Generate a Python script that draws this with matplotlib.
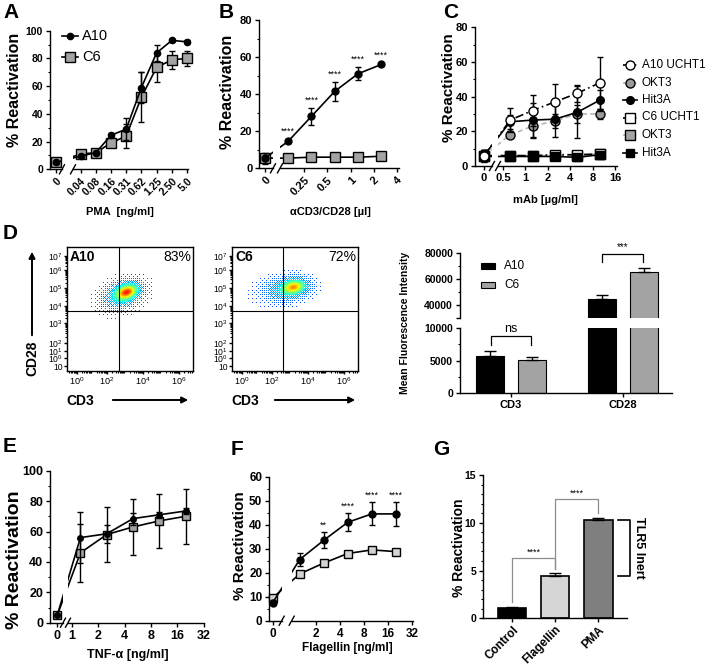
import numpy as np
import matplotlib
matplotlib.use('Agg')
import matplotlib.pyplot as plt
from matplotlib.lines import Line2D
from matplotlib.patches import FancyArrowPatch, Rectangle

plt.rcParams['font.family'] = ['Liberation Sans', 'DejaVu Sans']
plt.rcParams['mathtext.fontset'] = 'custom'
plt.rcParams['mathtext.rm'] = 'Liberation Sans'
plt.rcParams['mathtext.it'] = 'Liberation Sans:italic'
plt.rcParams['mathtext.bf'] = 'Liberation Sans:bold'
plt.rcParams['axes.linewidth'] = 1.0
plt.rcParams['xtick.major.width'] = 1.0
plt.rcParams['ytick.major.width'] = 1.0
plt.rcParams['xtick.minor.width'] = 0.8
plt.rcParams['ytick.minor.width'] = 0.8
plt.rcParams['xtick.major.size'] = 3
plt.rcParams['ytick.major.size'] = 3
plt.rcParams['xtick.minor.size'] = 1.6
plt.rcParams['ytick.minor.size'] = 1.8
plt.rcParams['xtick.major.pad'] = 2
plt.rcParams['ytick.major.pad'] = 2

# ======================= DATA =======================
# Panel A : PMA dose response
pma_dose = [0, 0.039, 0.078, 0.156, 0.3125, 0.625, 1.25, 2.5, 5.0]
pma_ticklabels = ['0.04', '0.08', '0.16', '0.31', '0.62', '1.25', '2.50', '5.0']
pma_a10 = [5, 9.5, 12, 24.5, 29, 59, 84, 93, 92]
pma_a10_err = [1, 1, 1, 1.5, 8, 11, 6, 1, 1]
pma_c6 = [5, 11, 12, 19, 24, 52, 73.5, 79, 80]
pma_c6_err = [1.5, 1.5, 1.5, 3, 8.5, 18, 10.5, 6.5, 5.5]

# Panel B : aCD3/CD28
cd3_dose = [0, 0.156, 0.3125, 0.625, 1.25, 2.5]
cd3_ticks = [0.25, 0.5, 1, 2, 4]
cd3_ticklabels = ['0.25', '0.5', '1', '2', '4']
cd3_a10 = [5.5, 14.5, 28, 41.5, 51, 56]
cd3_a10_err = [3, 1, 4.5, 5, 3.5, 0.8]
cd3_c6 = [5.5, 5.5, 6, 6, 6, 6.5]
cd3_c6_err = [2, 0.5, 0.5, 0.5, 0.5, 0.5]
cd3_stars = ['', '****', '****', '****', '****', '****']

# Panel C : mAb
mab_dose = [0, 0.625, 1.25, 2.5, 5, 10]
mab_ticks = [0.5, 1, 2, 4, 8, 16]
mab_ticklabels = ['0.5', '1', '2', '4', '8', '16']
a10_ucht1 = [6, 26.5, 32, 37, 42, 48]
a10_ucht1_err = [3, 7, 9, 10.5, 5, 15]
a10_okt3 = [6, 18, 23, 26, 30, 30]
a10_okt3_err = [3, 2, 7, 4, 5, 3]
a10_hit3a = [6, 25.5, 26.5, 27, 31, 38]
a10_hit3a_err = [3, 4, 10, 10.5, 15, 6]
c6_ucht1 = [6, 6, 6, 6.5, 6.5, 7]
c6_ucht1_err = [3, 1, 1, 1, 1, 1]
c6_okt3 = [6, 6, 6, 6, 6, 7]
c6_okt3_err = [3, 0.8, 0.8, 0.8, 0.8, 0.8]
c6_hit3a = [5.5, 5.5, 5.5, 5.5, 5, 6.5]
c6_hit3a_err = [3, 0.8, 0.8, 0.8, 0.8, 0.8]
mab_legend = ['A10 UCHT1', 'OKT3', 'Hit3A', 'C6 UCHT1', 'OKT3', 'Hit3A']

# Panel D : flow + MFI
flow_names = ['A10', 'C6']
flow_percent = ['83%', '72%']
flow_ylabels = ['$10^{7}$', '$10^{6}$', '$10^{5}$', '$10^{4}$', '$10^{3}$',
                '$10^{2}$', '$10^{1}$', '$10^{0}$', '10']
flow_xlabels = ['$10^{0}$', '$10^{2}$', '$10^{4}$', '$10^{6}$']
mfi_markers = ['CD3', 'CD28']
mfi_a10 = [5700, 44500]
mfi_a10_err = [850, 3500]
mfi_c6 = [5100, 65500]
mfi_c6_err = [450, 2800]

# Panel E : TNF-a
tnf_dose = [0, 1.25, 2.5, 5, 10, 20]
tnf_ticks = [1, 2, 4, 8, 16, 32]
tnf_ticklabels = ['1', '2', '4', '8', '16', '32']
tnf_a10 = [5, 56, 58.5, 68.5, 71, 73.5]
tnf_a10_err = [1, 17, 6, 4, 2, 2]
tnf_c6 = [5, 46, 58, 63, 67, 70]
tnf_c6_err = [1, 19, 18, 18.5, 18, 18]

# Panel F : Flagellin
flag_dose = [0, 1.25, 2.5, 5, 10, 20]
flag_ticks = [2, 4, 8, 16, 32]
flag_ticklabels = ['2', '4', '8', '16', '32']
flag_a10 = [7.5, 25.5, 33.5, 41, 44.5, 44.5]
flag_a10_err = [1, 2.7, 3.3, 3.7, 4.8, 5]
flag_c6 = [9.5, 19.5, 24, 28, 29.5, 28.8]
flag_c6_err = [1, 0.7, 0.7, 0.7, 0.7, 0.7]
flag_stars = ['', '', '**', '****', '****', '****']

# Panel G : TLR5
g_cats = ['Control', 'Flagellin', 'PMA']
g_vals = [1.1, 4.45, 10.3]
g_err = [0.12, 0.3, 0.25]
g_colors = ['#000000', '#d6d6d6', '#7f7f7f']

# ======================= FIGURE =======================
W, H = 706, 667
fig = plt.figure(figsize=(W / 100, H / 100), dpi=100)
GRAY = '#a3a3a3'


def X(p):
    return p / W


def Y(p):
    return 1 - p / H


def px_axes(x0, x1, y0, y1):
    ax = fig.add_axes([X(x0), Y(y1), (x1 - x0) / W, (y1 - y0) / H])
    ax.patch.set_alpha(0)
    for s in ('top', 'right'):
        ax.spines[s].set_visible(False)
    return ax


def ftext(x, y, s, **kw):
    return fig.text(X(x), Y(y), s, **kw)


def fline(xs, ys, **kw):
    ln = Line2D([X(v) for v in xs], [Y(v) for v in ys], transform=fig.transFigure, **kw)
    fig.add_artist(ln)
    return ln


def broken_axes(xl0, xz, xl1, xr0, xr1, ytop, ybot, ref_dose, ref_px, step,
                ylim, yticks, yminor, yfs):
    axL = px_axes(xl0, xl1, ytop, ybot)
    axR = px_axes(xr0, xr1, ytop, ybot)
    uref = np.log2(ref_dose)

    def upx(p):
        return uref + (p - ref_px) / step
    axL.set_xlim(upx(xl0), upx(xl1))
    axR.set_xlim(upx(xr0), upx(xr1))
    u0 = upx(xz)

    def pos(d):
        d = np.asarray(d, dtype=float)
        out = np.full(d.shape, u0)
        m = d > 0
        out[m] = np.log2(d[m])
        return out
    for ax in (axL, axR):
        ax.set_ylim(*ylim)
    axL.set_yticks(yticks, [str(v) for v in yticks], fontsize=yfs, fontweight='bold')
    axL.set_yticks(yminor, minor=True)
    axR.spines['left'].set_visible(False)
    axR.tick_params(axis='y', which='both', left=False, labelleft=False)
    for xp in (xl1, xr0):
        fline([xp - 2.5, xp + 2.5], [ybot + 4.5, ybot - 4.5], color='k', lw=1.0)
    return axL, axR, pos


def set_xt(axL, axR, pos, ticks, labels, fs, rot=0):
    kw = dict(fontsize=fs, fontweight='bold')
    if rot:
        kw.update(rotation=rot, ha='right', rotation_mode='anchor')
    axL.set_xticks(pos([0]), ['0'], **kw)
    axR.set_xticks(pos(ticks), labels, **kw)


def draw_series(axL, axR, pos, dose, vals, errs, marker, ms, mfc, ls='-', lc='k',
                lw=1.2, z=3, mew=1.0):
    dose = np.asarray(dose, float)
    vals = np.asarray(vals, float)
    errs = np.asarray(errs, float)
    for ax in (axL, axR):
        ax.plot(pos(dose), vals, ls=ls, color=lc, lw=lw, zorder=z)
    for ax, m in ((axL, dose == 0), (axR, dose > 0)):
        eb = ax.errorbar(pos(dose[m]), vals[m], yerr=errs[m], fmt=marker, ms=ms,
                         mfc=mfc, mec='k', mew=mew, ecolor='k', elinewidth=1.0,
                         capsize=2.5, capthick=1.0, zorder=z + 1)
        eb[0].set_clip_on(False)
        for a in eb[1]:
            a.set_clip_on(False)
        for a in eb[2]:
            a.set_clip_on(False)


def legend_entry(x, y, label, marker, ms, mfc, ls, lc, fs, half=8, gap=4):
    fline([x - half, x + half], [y, y], color=lc, lw=1.2, ls=ls)
    fline([x], [y], marker=marker, ms=ms, mfc=mfc, mec='k', mew=1.0, ls='none')
    ftext(x + half + gap, y, label, fontsize=fs, va='center', ha='left')


def ylab(x, y, s, fs):
    ftext(x, y, s, rotation=90, ha='center', va='center', fontsize=fs, fontweight='bold')


def letter(x, y, s):
    ftext(x, y, s, fontsize=15, fontweight='bold', ha='left', va='top')


# ---------------- Panel A ----------------
aL, aR, apos = broken_axes(50, 56, 62, 73, 188, 30.7, 169.3, 5.0, 187, 15.2,
                           (0, 100), [0, 20, 40, 60, 80, 100], [10, 30, 50, 70, 90], 7.5)
set_xt(aL, aR, apos, pma_dose[1:], pma_ticklabels, 7.5, rot=45)
draw_series(aL, aR, apos, pma_dose, pma_c6, pma_c6_err, 's', 6.5, GRAY, z=3)
draw_series(aL, aR, apos, pma_dose, pma_a10, pma_a10_err, 'o', 4.5, 'k', z=5)
legend_entry(70, 36, 'A10', 'o', 4.5, 'k', '-', 'k', 10.5)
legend_entry(70, 57, 'C6', 's', 6.5, GRAY, '-', 'k', 10.5)
ylab(15, 90, '% Reactivation', 11.5)
ftext(120, 212, 'PMA  [ng/ml]', fontsize=8, fontweight='bold', ha='center', va='center')
letter(3, 3, 'A')

# ---------------- Panel B ----------------
bL, bR, bpos = broken_axes(259.3, 265, 273, 280, 399, 20, 168.3, 1, 350.5, 23.3,
                           (0, 80), [0, 20, 40, 60, 80], [10, 30, 50, 70], 8)
set_xt(bL, bR, bpos, cd3_ticks, cd3_ticklabels, 8, rot=45)
draw_series(bL, bR, bpos, cd3_dose, cd3_c6, cd3_c6_err, 's', 6.5, GRAY, z=3)
draw_series(bL, bR, bpos, cd3_dose, cd3_a10, cd3_a10_err, 'o', 5, 'k', z=5)
for d, v, e, s in zip(cd3_dose, cd3_a10, cd3_a10_err, cd3_stars):
    if s:
        bR.text(bpos([d])[0], v + e + 2.0, s, ha='center', va='bottom', fontsize=6.5,
                clip_on=False)
ylab(228, 92, '% Reactivation', 11.5)
ftext(330, 212, 'αCD3/CD28 [µl]', fontsize=8, fontweight='bold', ha='center', va='center')
letter(219, 3, 'B')

# ---------------- Panel C ----------------
cL, cR, cpos = broken_axes(475, 484, 492, 498, 617, 27.3, 166, 0.5, 503, 22.4,
                           (0, 80), [0, 20, 40, 60, 80], [10, 30, 50, 70], 8)
set_xt(cL, cR, cpos, mab_ticks, mab_ticklabels, 8)
DD = (0, (5, 2, 1, 2))
DASH = (0, (3, 2))
LG = '#b5b5b5'
c_series = [
    (c6_okt3, c6_okt3_err, 's', 6.5, GRAY, DASH, LG),
    (c6_ucht1, c6_ucht1_err, 's', 6.5, 'white', DD, 'k'),
    (c6_hit3a, c6_hit3a_err, 's', 6, 'k', '-', 'k'),
    (a10_okt3, a10_okt3_err, 'o', 6.5, '#999999', DASH, LG),
    (a10_hit3a, a10_hit3a_err, 'o', 5.5, 'k', '-', 'k'),
    (a10_ucht1, a10_ucht1_err, 'o', 6.5, 'white', DD, 'k'),
]
for i, (v, e, mk, ms, fc, ls, lc) in enumerate(c_series):
    draw_series(cL, cR, cpos, mab_dose, v, e, mk, ms, fc, ls=ls, lc=lc, z=3 + 2 * i)
leg_c = [('o', 6.5, 'white', DD, 'k'), ('o', 6.5, '#999999', DASH, LG), ('o', 5.5, 'k', '-', 'k'),
         ('s', 6.5, 'white', DD, 'k'), ('s', 6.5, GRAY, DASH, LG), ('s', 6, 'k', '-', 'k')]
for i, (lab, st) in enumerate(zip(mab_legend, leg_c)):
    legend_entry(630, 65 + 17.5 * i, lab, st[0], st[1], st[2], st[3], st[4], 8.5, half=7, gap=5)
ylab(449, 88, '% Reactivation', 11)
ftext(545, 200, 'mAb [µg/ml]', fontsize=8, fontweight='bold', ha='center', va='center')
letter(443, 3, 'C')

# ---------------- Panel D : flow ----------------
flow_boxes = [(67, 193), (232, 358)]
flow_vline = [52, 51]
flow_comps = [
    [(60, 79, 7, 5, 0.3, 1.0), (56, 77, 13, 9, 0.3, 0.45), (52, 72, 20, 15, 0.2, 0.05)],
    [(62, 84, 8, 5, 0.2, 1.0), (54, 82, 15, 8, 0.15, 0.33), (45, 78, 22, 12, 0.1, 0.04)],
]
flow_cmax = [0.68, 0.56]
ydec = {0: 13, 1: 20, 2: 28, 3: 48, 4: 65, 5: 83, 6: 101, 7: 115}
xdec = {-1: -5, 0: 10, 1: 25, 2: 40, 3: 58, 4: 76, 5: 94, 6: 112, 7: 130}
bayer = np.array([[0, 8, 2, 10], [12, 4, 14, 6], [3, 11, 1, 9], [15, 7, 13, 5]]) / 16 + 1 / 32
for k, ((x0, x1), name, pct) in enumerate(zip(flow_boxes, flow_names, flow_percent)):
    ax = px_axes(x0, x1, 247, 371)
    for s in ('top', 'right'):
        ax.spines[s].set_visible(True)
    nx, ny = int(x1 - x0), 124
    ax.set_xlim(0, nx)
    ax.set_ylim(0, ny)
    xs = np.arange(nx) + 0.5
    ys = np.arange(ny) + 0.5
    XX, YY = np.meshgrid(xs, ys)
    D = np.zeros_like(XX)
    for cx, cy, sx, sy, rho, w in flow_comps[k]:
        dx = (XX - cx) / sx
        dy = (YY - cy) / sy
        D += w * np.exp(-(dx ** 2 - 2 * rho * dx * dy + dy ** 2) / (2 * (1 - rho ** 2)))
    D /= D.max()
    thr = np.tile(bayer, (ny // 4 + 1, nx // 4 + 1))[:ny, :nx]
    show = (np.clip(D / 0.45, 0, 1) > thr) & (D > 0.02)
    rgba = plt.cm.jet(0.2 + flow_cmax[k] * D ** 1.3)
    rgba[..., 3] = show.astype(float)
    ax.imshow(rgba, extent=(0, nx, 0, ny), origin='lower', interpolation='nearest',
              aspect='auto', zorder=1)
    ax.axvline(flow_vline[k], color='k', lw=0.8, zorder=2)
    ax.axhline(60, color='k', lw=0.8, zorder=2)
    ax.set_yticks([ydec[d] for d in (7, 6, 5, 4, 3, 2, 1, 0)] + [5], flow_ylabels, fontsize=6.2)
    ymin = []
    for d in range(2, 7):
        for j in range(2, 10):
            ymin.append(ydec[d] + np.log10(j) * (ydec[d + 1] - ydec[d]))
    ax.set_yticks(ymin, minor=True)
    ax.set_xticks([xdec[0], xdec[2], xdec[4], xdec[6]], flow_xlabels, fontsize=6.5)
    xmin = []
    for d in range(-1, 7):
        for j in range(2, 10):
            p = xdec[d] + np.log10(j) * (xdec[d + 1] - xdec[d])
            if 0 < p < nx:
                xmin.append(p)
    ax.set_xticks(xmin, minor=True)
    ax.tick_params(which='both', length=2, pad=1)
    ax.tick_params(which='minor', length=1.3)
    ax.text(3, ny - 3, name, fontsize=10, fontweight='bold', ha='left', va='top', zorder=3)
    ax.text(nx - 2, ny - 3, pct, fontsize=10, ha='right', va='top', zorder=3)

fig.add_artist(FancyArrowPatch((X(32), Y(338)), (X(32), Y(249)), transform=fig.transFigure,
                               arrowstyle='-|>', mutation_scale=9, lw=1.4, color='k'))
ftext(32, 358, 'CD28', rotation=90, fontsize=10, fontweight='bold', ha='center', va='center')
for cx, a0, a1 in ((80, 110, 191), (245, 272, 358)):
    ftext(cx, 401, 'CD3', fontsize=10, fontweight='bold', ha='center', va='center')
    fig.add_artist(FancyArrowPatch((X(a0), Y(400)), (X(a1), Y(400)), transform=fig.transFigure,
                                   arrowstyle='-|>', mutation_scale=9, lw=1.4, color='k'))
letter(3, 224, 'D')

# ---------------- Panel D : MFI bars ----------------
dU = px_axes(460, 672, 253, 318)
dL = px_axes(460, 672, 328, 393.3)
xc = np.arange(len(mfi_markers))
for ax in (dU, dL):
    ax.bar(xc - 0.19, mfi_a10, 0.25, color='k', edgecolor='k', lw=0.8, zorder=2)
    ax.bar(xc + 0.19, mfi_c6, 0.25, color=GRAY, edgecolor='k', lw=0.8, zorder=2)
    ax.errorbar(xc - 0.19, mfi_a10, yerr=[np.zeros(2), mfi_a10_err], fmt='none', ecolor='k',
                elinewidth=1, capsize=4, capthick=1, zorder=3)
    ax.errorbar(xc + 0.19, mfi_c6, yerr=[np.zeros(2), mfi_c6_err], fmt='none', ecolor='k',
                elinewidth=1, capsize=4, capthick=1, zorder=3)
    ax.set_xlim(-0.455, 1.4375)
dU.set_ylim(30000, 80000)
dL.set_ylim(0, 10000)
dU.spines['bottom'].set_visible(False)
dU.tick_params(axis='x', which='both', bottom=False, labelbottom=False)
dU.set_yticks([30000, 40000, 60000, 80000], ['', '40000', '60000', '80000'],
              fontsize=7.5, fontweight='bold')
dU.set_yticks([50000, 70000], minor=True)
dL.set_yticks([0, 5000, 10000], ['0', '5000', '10000'], fontsize=7.5, fontweight='bold')
dL.set_yticks([2500, 7500], minor=True)
dL.set_xticks(xc, mfi_markers, fontsize=8, fontweight='bold')
dL.plot([-0.18, -0.18, 0.18, 0.18], [7400, 8800, 8800, 7400], color='k', lw=0.9)
dL.text(0, 9000, 'ns', ha='center', va='bottom', fontsize=9)
dU.plot([0.81, 0.81, 1.18, 1.18], [73000, 79300, 79300, 73000], color='k', lw=0.9, clip_on=False)
dU.text(0.995, 80500, '***', ha='center', va='bottom', fontsize=7, clip_on=False)
fig.add_artist(Rectangle((X(481), Y(269)), 14 / W, 6 / H, transform=fig.transFigure,
                         facecolor='k', edgecolor='k', lw=0.8))
fig.add_artist(Rectangle((X(481), Y(288)), 14 / W, 6 / H, transform=fig.transFigure,
                         facecolor=GRAY, edgecolor='k', lw=0.8))
ftext(504, 266, 'A10', fontsize=8.5, va='center')
ftext(504, 285, 'C6', fontsize=8.5, va='center')
ylab(405, 323, 'Mean Fluorescence Intensity', 7.5)

# ---------------- Panel E ----------------
eL, eR, epos = broken_axes(50, 57.3, 63, 68, 204, 470.7, 622.7, 1, 72, 26.3,
                           (0, 100), [0, 20, 40, 60, 80, 100], [10, 30, 50, 70, 90], 9)
set_xt(eL, eR, epos, tnf_ticks, tnf_ticklabels, 9)
draw_series(eL, eR, epos, tnf_dose, tnf_c6, tnf_c6_err, 's', 6, GRAY, z=3)
draw_series(eL, eR, epos, tnf_dose, tnf_a10, tnf_a10_err, 'o', 4, 'k', z=5)
ylab(15, 560, '% Reactivation', 14)
ftext(128, 655, 'TNF-α [ng/ml]', fontsize=9, fontweight='bold', ha='center', va='center')
letter(3, 437, 'E')

# ---------------- Panel F ----------------
fL, fR, fpos = broken_axes(269.3, 272.7, 281.7, 291.7, 413, 476.7, 620.7, 2, 316, 24,
                           (0, 60), [0, 10, 20, 30, 40, 50, 60],
                           [5, 15, 25, 35, 45, 55], 8.5)
set_xt(fL, fR, fpos, flag_ticks, flag_ticklabels, 8.5)
draw_series(fL, fR, fpos, flag_dose, flag_c6, flag_c6_err, 's', 5.5, '#d3d3d3', z=3)
draw_series(fL, fR, fpos, flag_dose, flag_a10, flag_a10_err, 'o', 5, 'k', z=5)
for d, v, e, s in zip(flag_dose, flag_a10, flag_a10_err, flag_stars):
    if s:
        fR.text(fpos([d])[0], v + e + 1.0, s, ha='center', va='bottom', fontsize=6.5,
                clip_on=False)
ylab(240, 546, '% Reactivation', 11)
ftext(347, 648, 'Flagellin [ng/ml]', fontsize=8.5, fontweight='bold', ha='center', va='center')
letter(231, 440, 'F')

# ---------------- Panel G ----------------
gax = px_axes(483.3, 626.7, 475, 618.3)
gx = np.arange(len(g_cats))
gax.bar(gx, g_vals, 0.66, color=g_colors, edgecolor='k', lw=1.2, zorder=2)
gax.errorbar(gx, g_vals, yerr=[np.zeros(3), g_err], fmt='none', ecolor='k', elinewidth=1,
             capsize=4, capthick=1, zorder=3)
gax.set_xlim(-0.674, 2.66)
gax.set_ylim(0, 15)
gax.set_yticks([0, 5, 10, 15], ['0', '5', '10', '15'], fontsize=7.5, fontweight='bold')
gax.set_yticks([1, 2, 3, 4, 6, 7, 8, 9, 11, 12, 13, 14], minor=True)
gax.set_xticks(gx, g_cats, fontsize=8.5, fontweight='bold', rotation=45, ha='right',
               rotation_mode='anchor')
gax.tick_params(axis='x', pad=1)
BG = '#8c8c8c'
gax.plot([0, 0, 1, 1], [1.75, 6.28, 6.28, 5.2], color=BG, lw=0.9, zorder=1)
gax.plot([1, 1, 2, 2], [5.2, 12.45, 12.45, 11.05], color=BG, lw=0.9, zorder=1)
gax.text(0.5, 6.45, '****', ha='center', va='bottom', fontsize=6.5)
gax.text(1.5, 12.6, '****', ha='center', va='bottom', fontsize=6.5)
gax.plot([2.46, 2.73, 2.73, 2.46], [g_vals[2], g_vals[2], g_vals[1], g_vals[1]], color='k',
         lw=1.2, clip_on=False)
gax.text(2.95, (g_vals[1] + g_vals[2]) / 2, 'TLR5 Inert', rotation=270, ha='center',
         va='center', fontsize=9, fontweight='bold', clip_on=False)
ylab(459, 548, '% Reactivation', 10)
letter(433, 440, 'G')

fig.savefig('out.png', dpi=100)
